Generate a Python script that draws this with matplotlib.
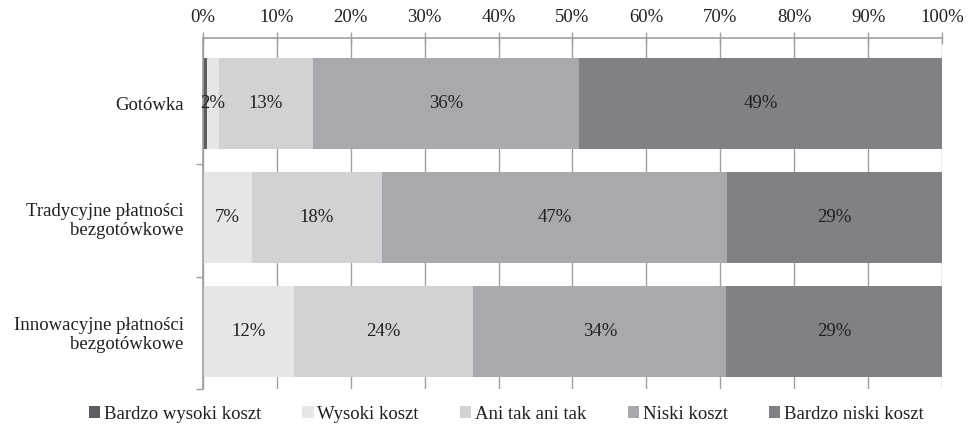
import numpy as np
import matplotlib
matplotlib.use("Agg")
import matplotlib.pyplot as plt
from matplotlib.ticker import FixedLocator, PercentFormatter

plt.rcParams["font.family"] = ["Liberation Serif", "DejaVu Serif"]

# data (percent of respondents)
categories = ["Gotówka", "Tradycyjne płatności\nbezgotówkowe", "Innowacyjne płatności\nbezgotówkowe"]
series_names = ["Bardzo wysoki koszt", "Wysoki koszt", "Ani tak ani tak", "Niski koszt", "Bardzo niski koszt"]
bardzo_wysoki = [0.5, 0.0, 0.0]
wysoki = [1.6, 6.6, 12.3]
ani_tak = [12.8, 17.6, 24.3]
niski = [36.0, 46.7, 34.2]
bardzo_niski = [49.1, 29.1, 29.2]
colors = ["#5d5e61", "#e6e6e8", "#d1d2d4", "#a8a9ac", "#808184"]

values = [bardzo_wysoki, wysoki, ani_tak, niski, bardzo_niski]
text_color = "#231f20"
fs = 13.5

fig = plt.figure(figsize=(9.68, 4.29), dpi=100)
ax = fig.add_axes([0.2097, 0.0932, 0.7634, 0.8182])

y = np.arange(len(categories))
left = np.zeros(len(categories))
for name, vals, col in zip(series_names, values, colors):
    vals = np.array(vals)
    ax.barh(y, vals, left=left, height=0.80, color=col, label=name, zorder=2)
    for yi, (l, v) in enumerate(zip(left, vals)):
        if v >= 1.0:
            ax.text(l + v / 2, yi, f"{v:.0f}%", ha="center", va="center",
                    fontsize=fs, color=text_color, zorder=3)
    left += vals

ax.set_xlim(0, 100)
ax.set_ylim(2.504, -0.575)
ax.set_xticks(np.arange(0, 101, 10))
ax.xaxis.set_major_formatter(PercentFormatter(decimals=0))
ax.xaxis.tick_top()
ax.tick_params(axis="x", which="major", direction="inout", length=8, width=1,
               color="#a0a0a0", labelsize=fs, labelcolor=text_color, pad=5)
ax.grid(axis="x", color="#a0a0a0", linewidth=1, zorder=0)

ax.set_yticks(y)
ax.set_yticklabels(categories, fontsize=fs, color=text_color)
ax.tick_params(axis="y", which="major", length=0, pad=14)
ax.yaxis.set_minor_locator(FixedLocator([0.53, 1.52, 2.504]))
ax.tick_params(axis="y", which="minor", direction="out", length=5, width=1, color="#a0a0a0")

for side in ["right", "bottom"]:
    ax.spines[side].set_visible(False)
for side in ["left", "top"]:
    ax.spines[side].set_color("#a0a0a0")
    ax.spines[side].set_linewidth(1.2)

leg = fig.legend(loc="lower center", bbox_to_anchor=(0.523, -0.025), ncol=5, frameon=False,
                 fontsize=fs, handlelength=0.6, handleheight=0.6, handletextpad=0.2,
                 columnspacing=2.2)
for t in leg.get_texts():
    t.set_color(text_color)

fig.savefig("out.png", dpi=100)
